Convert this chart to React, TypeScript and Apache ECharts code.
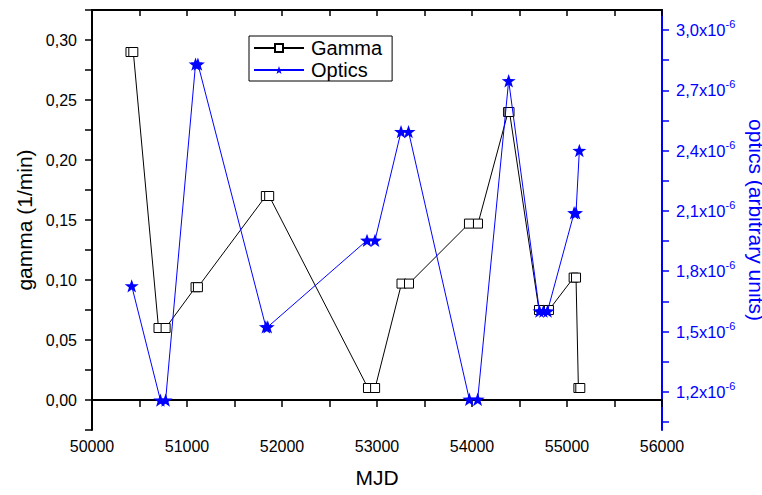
import React, { useEffect, useRef } from "react";
import * as echarts from "echarts";

// Gamma series: MJD and gamma (1/min)
const gammaMjd = [50405, 50435, 50700, 50775, 51090, 51115, 51830, 51865, 52905, 52980, 53258, 53337, 53968, 54063, 54380, 54395, 54705, 54758, 54810, 55070, 55095, 55120, 55140];
const gammaVal = [0.29, 0.29, 0.06, 0.06, 0.094, 0.094, 0.17, 0.17, 0.01, 0.01, 0.097, 0.097, 0.147, 0.147, 0.24, 0.24, 0.075, 0.075, 0.075, 0.102, 0.102, 0.01, 0.01];

// Optics series: MJD and optics flux in units of 1e-6 (arbitrary units)
const opticsMjd = [50418, 50720, 50775, 51090, 51115, 51830, 51850, 52895, 52979, 53253, 53332, 53972, 54060, 54386, 54710, 54752, 54795, 55075, 55095, 55130];
const opticsVal = [1.727, 1.159, 1.159, 2.831, 2.831, 1.523, 1.523, 1.954, 1.954, 2.495, 2.495, 1.163, 1.163, 2.748, 1.602, 1.602, 1.602, 2.091, 2.091, 2.401];

// Right axis ticks / labels (x1e-6)
const opticsTicks = [1.05, 1.2, 1.35, 1.5, 1.65, 1.8, 1.95, 2.1, 2.25, 2.4, 2.55, 2.7, 2.85, 3.0];
const opticsLabels = [1.2, 1.5, 1.8, 2.1, 2.4, 2.7, 3.0];

const seriesNames = ["Gamma", "Optics"];

const FONT = "'Liberation Sans', Arial, sans-serif";
const STAR = "path://M0,-10L2.35,-3.24L9.51,-3.09L3.8,1.24L5.88,8.09L0,4L-5.88,8.09L-3.8,1.24L-9.51,-3.09L-2.35,-3.24Z";

export default function App() {
  const ref = useRef<HTMLDivElement>(null);
  useEffect(() => {
    const chart = echarts.init(ref.current!, null, { renderer: "svg" });
    const black = "#000";
    const blue = "#0000ff";
    const xCommon = {
      type: "value" as const,
      min: 50000,
      max: 56000,
      interval: 500,
      splitLine: { show: false },
    };
    chart.setOption({
      animation: false,
      backgroundColor: "#fff",
      textStyle: { fontFamily: FONT },
      grid: { left: 92, right: 100, top: 10, bottom: 65, outerBoundsMode: "none", containLabel: false },
      legend: {
        orient: "vertical",
        left: 249,
        top: 36,
        data: seriesNames,
        borderColor: black,
        borderWidth: 1,
        padding: [2, 10, 1, 4],
        itemGap: 2,
        itemWidth: 50,
        itemHeight: 10,
        formatter: "{t|{name}}",
        textStyle: {
          color: black,
          fontSize: 20,
          rich: { t: { fontSize: 20, fontFamily: FONT, color: black, lineHeight: 24, padding: [0, 0, 0, 2] } },
        },
      },
      xAxis: [
        {
          ...xCommon,
          position: "bottom",
          axisLine: { show: true, lineStyle: { color: black, width: 2 } },
          axisTick: { show: true, inside: false, length: 7, lineStyle: { color: black, width: 1.5 } },
          axisLabel: {
            show: true,
            margin: 8,
            fontSize: 16,
            color: black,
            fontFamily: FONT,
            showMinLabel: true,
            showMaxLabel: true,
            formatter: (v: number) => (v % 1000 === 0 ? String(v) : ""),
          },
          name: "MJD",
          nameLocation: "middle",
          nameGap: 37,
          nameTextStyle: { fontSize: 21, color: black, fontFamily: FONT },
        },
        {
          ...xCommon,
          position: "top",
          axisLine: { show: true, lineStyle: { color: black, width: 2 } },
          axisTick: { show: true, inside: true, length: 6, lineStyle: { color: black, width: 1.5 } },
          axisLabel: { show: false },
        },
      ],
      yAxis: [
        {
          type: "value",
          position: "left",
          min: -0.025,
          max: 0.325,
          interval: 0.025,
          splitLine: { show: false },
          axisLine: { show: true, lineStyle: { color: black, width: 2 } },
          axisTick: { show: true, inside: false, length: 7, lineStyle: { color: black, width: 1.5 } },
          axisLabel: {
            margin: 15,
            fontSize: 16,
            color: black,
            fontFamily: FONT,
            formatter: (v: number) => {
              const k = v / 0.05;
              if (Math.abs(k - Math.round(k)) > 1e-6 || v < -1e-9 || v > 0.31) return "";
              return v.toFixed(2).replace(".", ",");
            },
          },
          name: "gamma (1/min)",
          nameLocation: "middle",
          nameGap: 49,
          nameTextStyle: { fontSize: 21, color: black, fontFamily: FONT },
        },
        {
          type: "value",
          position: "right",
          min: 1.01,
          max: 3.1,
          splitLine: { show: false },
          axisLine: { show: true, lineStyle: { color: blue, width: 2 } },
          axisTick: { show: true, inside: false, length: 7, customValues: opticsTicks, lineStyle: { color: blue, width: 1.5 } },
          axisLabel: {
            margin: 14,
            color: blue,
            fontFamily: FONT,
            customValues: opticsLabels,
            formatter: (v: number) => `{a|${v.toFixed(1).replace(".", ",")}x10}{b|-6}`,
            rich: {
              a: { fontSize: 16.5, color: blue, fontFamily: FONT },
              b: { fontSize: 11, color: blue, fontFamily: FONT, padding: [0, 0, 12, 0] },
            },
          },
          name: "optics (arbitrary units)",
          nameLocation: "middle",
          nameRotate: -90,
          nameGap: 74,
          nameTextStyle: { fontSize: 21, color: blue, fontFamily: FONT },
        },
      ],
      series: [
        {
          name: seriesNames[0],
          type: "line",
          xAxisIndex: 0,
          yAxisIndex: 0,
          data: gammaMjd.map((m, i) => [m, gammaVal[i]]),
          symbol: "rect",
          symbolSize: 9,
          showAllSymbol: true,
          itemStyle: { color: "#fff", borderColor: black, borderWidth: 1 },
          lineStyle: { color: black, width: 1 },
          z: 2,
        },
        {
          name: seriesNames[1],
          type: "line",
          xAxisIndex: 0,
          yAxisIndex: 1,
          data: opticsMjd.map((m, i) => [m, opticsVal[i]]),
          symbol: STAR,
          symbolSize: 14,
          symbolKeepAspect: true,
          showAllSymbol: true,
          itemStyle: { color: blue, borderColor: blue, borderWidth: 0 },
          lineStyle: { color: blue, width: 1 },
          z: 3,
        },
      ],
    });
    return () => chart.dispose();
  }, []);
  return <div ref={ref} style={{ width: 762, height: 495, position: "absolute", left: 0, top: 0 }} />;
}
